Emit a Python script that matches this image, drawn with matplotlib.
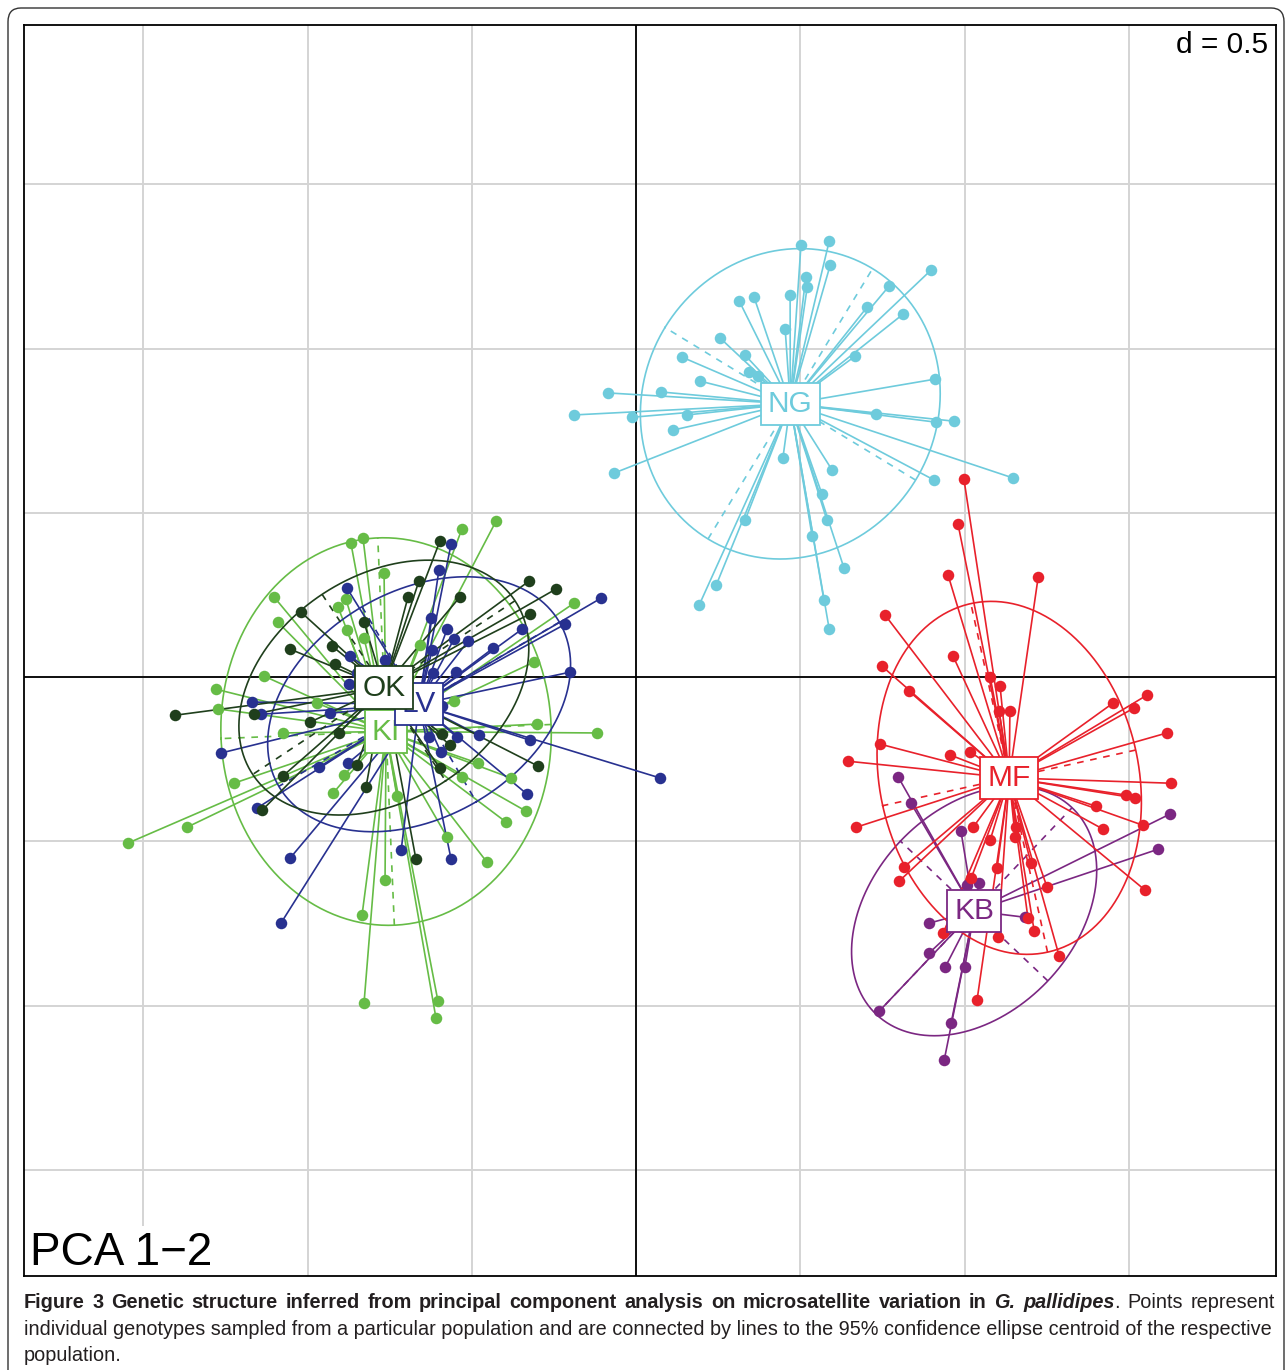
import numpy as np
import matplotlib.pyplot as plt
from matplotlib.patches import FancyBboxPatch

plt.rcParams['font.family'] = ['Liberation Sans', 'DejaVu Sans']

W, H = 1287, 1370

# PCA scores (axis 1, axis 2), per population
KB_x = [0.798, 0.837, 0.989, 1.625, 1.589, 1.044, 1.008, 0.892, 0.892, 0.941, 1.001, 0.740, 0.959, 0.938, 1.184]
KB_y = [-0.304, -0.384, -0.469, -0.417, -0.524, -0.627, -0.633, -0.749, -0.840, -0.883, -0.883, -1.017, -1.053, -1.166, -0.731]

KI_x = [-0.868, -0.831, -0.767, -1.102, -1.090, -0.907, -0.883, -0.880, -0.828, -1.132, -1.278, -1.272, -1.075, -0.971,
        -0.426, -0.530, -0.189, -0.310, -0.554, -0.301, -0.119, -0.658, -0.481, -0.381, -0.530, -0.335, -0.396, -0.728,
        -0.575, -0.454, -0.764, -0.603, -0.609, -1.224, -1.367, -1.546, -0.889, -0.922, -0.834, -0.828]
KI_y = [0.408, 0.423, 0.317, 0.244, 0.167, 0.213, 0.237, 0.143, 0.119, 0.003, -0.037, -0.097, -0.170, -0.079,
        0.475, 0.451, 0.225, 0.046, -0.073, -0.143, -0.170, 0.097, -0.262, -0.307, -0.304, -0.408, -0.441, -0.362,
        -0.487, -0.563, -0.618, -0.986, -1.038, -0.323, -0.457, -0.505, -0.298, -0.353, -0.724, -0.992]

LV_x = [-0.880, -0.764, -0.871, -0.874, -1.169, -1.142, -1.263, -0.931, -0.849, -0.965, -0.877, -0.563, -0.600,
        -0.107, -0.216, -0.624, -0.575, -0.554, -0.511, -0.621, -0.435, -0.347, -0.548, -0.201, -0.618, -0.323,
        -0.591, -0.545, -0.478, -0.630, 0.073, -0.332, -0.594, -0.715, -0.563, -1.053, -1.081, -1.154]
LV_y = [0.271, 0.052, 0.064, -0.021, -0.076, -0.113, -0.231, -0.110, 0.012, -0.274, -0.262, 0.405, 0.326,
        0.240, 0.161, 0.180, 0.146, 0.116, 0.110, 0.082, 0.088, 0.146, 0.015, 0.015, 0.012, -0.192,
        -0.088, -0.183, -0.177, -0.183, -0.307, -0.356, -0.228, -0.527, -0.554, -0.551, -0.749, -0.399]

MF_x = [0.998, 0.980, 0.950, 1.224, 0.758, 0.965, 0.749, 1.078, 1.108, 0.831, 1.105, 1.138, 1.452, 1.555, 1.516,
        1.616, 0.743, 0.956, 1.017, 0.645, 1.629, 1.492, 1.519, 1.400, 0.670, 1.026, 1.157, 1.422, 1.543, 1.078,
        1.154, 0.816, 0.801, 1.099, 1.202, 1.020, 1.251, 1.549, 1.193, 1.212, 0.935, 1.102, 1.288, 1.038]
MF_y = [0.603, 0.466, 0.310, 0.304, 0.189, 0.064, 0.033, 0.000, -0.027, -0.043, -0.103, -0.103, -0.079, -0.055,
        -0.094, -0.170, -0.204, -0.237, -0.228, -0.256, -0.323, -0.359, -0.368, -0.393, -0.457, -0.457, -0.457,
        -0.463, -0.451, -0.496, -0.487, -0.578, -0.621, -0.581, -0.566, -0.612, -0.639, -0.648, -0.734, -0.773,
        -0.779, -0.791, -0.849, -0.983]

NG_x = [0.502, 0.588, 0.591, 0.517, 0.521, 0.469, 0.359, 0.314, 0.898, 0.770, 0.703, 0.813, 0.454, 0.256, 0.667,
        0.332, 0.140, 0.344, 0.371, 0.195, 0.910, -0.085, 0.076, -0.189, -0.012, 0.155, 0.113, 0.731, 0.913, 0.968,
        -0.067, 0.447, 0.597, 0.907, 1.148, 0.566, 0.332, 0.581, 0.536, 0.633, 0.244, 0.192, 0.572, 0.588]
NG_y = [1.315, 1.327, 1.254, 1.218, 1.187, 1.163, 1.157, 1.145, 1.239, 1.190, 1.126, 1.105, 1.059, 1.032, 0.977,
        0.980, 0.974, 0.928, 0.916, 0.901, 0.907, 0.865, 0.868, 0.798, 0.791, 0.798, 0.752, 0.801, 0.776, 0.779,
        0.621, 0.667, 0.630, 0.600, 0.606, 0.557, 0.478, 0.478, 0.429, 0.332, 0.280, 0.219, 0.234, 0.146]

OK_x = [-1.020, -1.053, -0.925, -0.916, -1.403, -1.163, -0.992, -0.904, -0.828, -0.597, -0.661, -0.694, -0.536,
        -0.326, -0.244, -0.323, -0.566, -0.298, -0.591, -0.597, -0.670, -1.138, -1.075, -0.822, -0.849]
OK_y = [0.198, 0.085, 0.094, 0.040, -0.116, -0.113, -0.137, -0.170, 0.167, 0.414, 0.292, 0.244, 0.244,
        0.292, 0.268, 0.192, -0.207, -0.271, -0.174, -0.277, -0.554, -0.405, -0.301, -0.335, -0.268]

pops = ['KB', 'KI', 'LV', 'MF', 'NG', 'OK']
pop_x = [KB_x, KI_x, LV_x, MF_x, NG_x, OK_x]
pop_y = [KB_y, KI_y, LV_y, MF_y, NG_y, OK_y]
pop_colors = ['#7B2782', '#66BC46', '#283190', '#E8212B', '#6ECBDC', '#1F3F1C']

fig = plt.figure(figsize=(W / 100, H / 100), dpi=100)
ax = fig.add_axes([24 / W, 1 - 1276 / H, 1252 / W, 1251 / H])
ax.set_xlim(-1.863, 1.948)
ax.set_ylim(-1.823, 1.985)

# grid with d = 0.5
ax.set_xticks(np.arange(-1.5, 1.9, 0.5))
ax.set_yticks(np.arange(-1.5, 1.9, 0.5))
ax.tick_params(length=0, labelbottom=False, labelleft=False)
ax.grid(True, color='#D4D4D4', lw=1.4)
ax.set_axisbelow(True)
ax.axhline(0, color='black', lw=1.3, zorder=1)
ax.axvline(0, color='black', lw=1.3, zorder=1)
for s in ax.spines.values():
    s.set_linewidth(1.3)
    s.set_zorder(12)

centroids = []
for x, y, col in zip(pop_x, pop_y, pop_colors):
    x = np.asarray(x)
    y = np.asarray(y)
    cx, cy = x.mean(), y.mean()
    centroids.append((cx, cy))
    # stars
    for xi, yi in zip(x, y):
        ax.plot([cx, xi], [cy, yi], color=col, lw=1.2, zorder=3)
    ax.plot(x, y, 'o', color=col, ms=8.3, mew=0, zorder=4)
    # 1.5 sd ellipse and its axes
    cov = np.cov(x, y, bias=True)
    vals, vecs = np.linalg.eigh(cov)
    a = 1.5 * np.sqrt(vals)
    t = np.linspace(0, 2 * np.pi, 300)
    ell = vecs @ np.vstack([a[0] * np.cos(t), a[1] * np.sin(t)])
    ax.plot(cx + ell[0], cy + ell[1], color=col, lw=1.2, zorder=3)
    for k in range(2):
        v = vecs[:, k] * a[k]
        ax.plot([cx - v[0], cx + v[0]], [cy - v[1], cy + v[1]], color=col, lw=1.2,
                ls=(0, (4, 4)), zorder=3)

for name, (cx, cy), col in zip(pops, centroids, pop_colors):
    ax.text(cx, cy, name, color=col, fontsize=21.5, ha='center', va='center', zorder=10,
            bbox=dict(boxstyle='square,pad=0.24', fc='white', ec=col, lw=1.3))

ax.text(0.9936, 0.984, 'd = 0.5', transform=ax.transAxes, ha='right', va='center', fontsize=21.5,
        zorder=11, bbox=dict(boxstyle='square,pad=0.1', fc='white', ec='none'))
ax.text(0.005, 0.009, 'PCA 1\u22122', transform=ax.transAxes, ha='left', va='baseline', fontsize=33,
        zorder=11, bbox=dict(boxstyle='square,pad=0.1', fc='white', ec='none'))

# outer rounded border
fig.patches.append(FancyBboxPatch((8 / W, -0.05), 1276 / W, 1.05 - 8 / H,
                                  boxstyle='round,pad=0,rounding_size=0.01',
                                  transform=fig.transFigure, fc='none', ec='#333333', lw=1.0))

# caption
cap_font = ['Liberation Sans Narrow', 'Liberation Sans', 'DejaVu Sans']
cap_col = '#231F20'
r = fig.canvas.get_renderer()
line2 = ('individual genotypes sampled from a particular population and are connected by lines '
         'to the 95% confidence ellipse centroid of the respective')
probe = fig.text(0, 0, line2, fontsize=14, family=cap_font)
w2 = probe.get_window_extent(r).width
probe.remove()
fs = 14 * 1251 / w2

x0 = 24 / W
# first line, justified word by word; each word is a list of (text, weight, style) pieces
bold_words = 'Figure 3 Genetic structure inferred from principal component analysis on microsatellite variation in'.split()
words = [[(wd, 'bold', 'normal')] for wd in bold_words]
words += [[('G.', 'bold', 'italic')],
          [('pallidipes', 'bold', 'italic'), ('.', 'normal', 'normal')],
          [('Points', 'normal', 'normal')], [('represent', 'normal', 'normal')]]
y1 = 1 - 1308 / H
word_w = []
for wd in words:
    tot = 0
    for txt, wt, st in wd:
        p = fig.text(0, 0, txt, fontsize=fs, family=cap_font, fontweight=wt, style=st)
        tot += p.get_window_extent(r).width
        p.remove()
    word_w.append(tot)
gap = (1251 - sum(word_w)) / (len(words) - 1)
xp = 24.0
for wd in words:
    for txt, wt, st in wd:
        t = fig.text(xp / W, y1, txt, fontsize=fs, family=cap_font, fontweight=wt, style=st,
                     color=cap_col, va='baseline')
        xp += t.get_window_extent(r).width
    xp += gap
fig.text(x0, 1 - 1335 / H, line2, fontsize=fs, family=cap_font, color=cap_col, va='baseline')
fig.text(x0, 1 - 1361 / H, 'population.', fontsize=fs, family=cap_font, color=cap_col, va='baseline')

fig.savefig('out.png', dpi=100)
